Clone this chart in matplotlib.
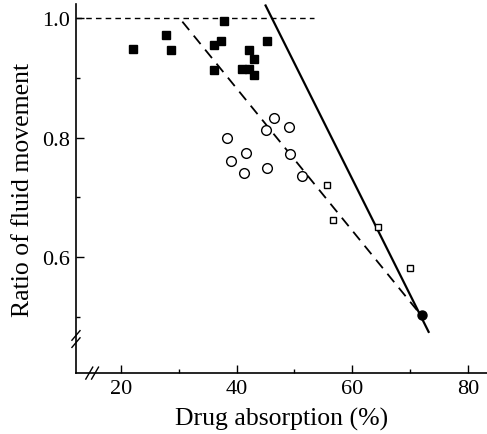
import numpy as np
import matplotlib
matplotlib.use("Agg")
import matplotlib.pyplot as plt

# filled squares
sq_x = [22.1, 27.7, 28.6, 37.8, 36.1, 37.3, 36.0, 42.2, 43.0, 41.0, 42.1, 43.0, 45.2]
sq_y = [0.948, 0.972, 0.947, 0.995, 0.955, 0.962, 0.913, 0.947, 0.931, 0.914, 0.915, 0.904, 0.962]

# open circles
circ_x = [46.5, 45.1, 49.0, 38.3, 41.6, 39.0, 49.3, 41.3, 45.3, 51.3]
circ_y = [0.832, 0.813, 0.818, 0.799, 0.775, 0.761, 0.772, 0.740, 0.749, 0.735]

# open squares
osq_x = [55.6, 56.6, 64.5, 69.9]
osq_y = [0.720, 0.662, 0.651, 0.582]

# filled circle
fc_x = [72.1]
fc_y = [0.503]

# regression lines (end points)
solid_x = [45.0, 73.2]
solid_y = [1.021, 0.475]
dash_x = [30.6, 71.8]
dash_y = [0.994, 0.504]
ref_x = [12.2, 53.4]
ref_y = [1.0, 1.0]

plt.rcParams['font.family'] = ['Liberation Serif', 'DejaVu Serif']

fig = plt.figure(figsize=(4.87, 4.35), dpi=100)
ax = fig.add_axes([0.156, 0.140, 0.844, 0.8485])

ax.plot(ref_x, ref_y, color='black', lw=1.0, ls=(0, (4, 3)))
ax.plot(dash_x, dash_y, color='black', lw=1.3, ls=(0, (6, 4)))
ax.plot(solid_x, solid_y, color='black', lw=1.6)

ax.plot(sq_x, sq_y, 's', color='black', ms=6, ls='none')
ax.plot(circ_x, circ_y, 'o', mfc='white', mec='black', mew=1.0, ms=7, ls='none')
ax.plot(osq_x, osq_y, 's', mfc='white', mec='black', mew=1.0, ms=5, ls='none')
ax.plot(fc_x, fc_y, 'o', color='black', ms=6.5, ls='none', zorder=5)

ax.set_xlim(12.2, 83.3)
ax.set_ylim(0.406, 1.0235)

ax.set_xticks([20, 40, 60, 80])
ax.set_xticks([30, 50, 70], minor=True)
ax.set_yticks([0.6, 0.8, 1.0])
ax.set_yticklabels(['0.6', '0.8', '1.0'])
ax.set_yticks([0.5, 0.7, 0.9], minor=True)

ax.tick_params(axis='both', which='major', direction='in', length=6, width=1.0,
               labelsize=16, pad=4)
ax.tick_params(axis='both', which='minor', direction='in', length=3, width=1.0)

for s in ['top', 'right']:
    ax.spines[s].set_visible(False)
ax.spines['left'].set_linewidth(1.2)
ax.spines['bottom'].set_linewidth(1.2)

# axis break marks
bx = 15.0
for off in (-0.5, 0.5):
    ax.plot([bx + off - 0.6, bx + off + 0.6], [0.396, 0.416], color='black', lw=1.0, clip_on=False)
by = 0.463
for off in (-0.006, 0.006):
    ax.plot([11.5, 12.9], [by + off - 0.008, by + off + 0.008], color='black', lw=1.0, clip_on=False)

ax.set_xlabel('Drug absorption (%)', fontsize=18.5, labelpad=7)
ax.set_ylabel('Ratio of fluid movement', fontsize=18.5, labelpad=6)

fig.savefig('out.png', dpi=100)
